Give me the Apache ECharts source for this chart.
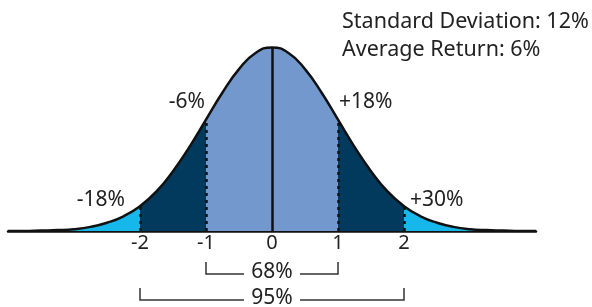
<!DOCTYPE html>
<html>
<head>
<meta charset="utf-8">
<script src="https://cdn.jsdelivr.net/npm/echarts@6/dist/echarts.min.js"></script>
<style>
  html, body { margin: 0; padding: 0; background: #fff; }
  #main { width: 592px; height: 307px; }
</style>
</head>
<body>
<div id="main"></div>
<script>
// 数据：标准差刻度和曲线高度
var sigmaX = [-4, -3.75, -3.5, -3.25, -3, -2.75, -2.5, -2.25, -2, -1.75, -1.5, -1.25, -1, -0.75, -0.5, -0.25,
    0, 0.25, 0.5, 0.75, 1, 1.25, 1.5, 1.75, 2, 2.25, 2.5, 2.75, 3, 3.25, 3.5, 3.75, 4];
var curveY = [0.000, 0.000, 0.001, 0.002, 0.004, 0.009, 0.018, 0.032, 0.054, 0.086, 0.130, 0.183, 0.242, 0.301, 0.352, 0.387,
    0.399, 0.387, 0.352, 0.301, 0.242, 0.183, 0.130, 0.086, 0.054, 0.032, 0.018, 0.009, 0.004, 0.002, 0.001, 0.000, 0.000];
var tickLabels = [-2, -1, 0, 1, 2];
var returnLabels = ['-18%', '-6%', '+18%', '+30%'];
var returnAt = [-2, -1, 1, 2];
var bandLabels = ['68%', '95%'];
var bandRange = [[-1, 1], [-2, 2]];
var infoLines = ['Standard Deviation: 12%', 'Average Return: 6%'];

(function () {
    var myChart = echarts.init(document.getElementById('main'));
    var font = 'Noto Sans';
    var points = sigmaX.map(function (x, i) { return [x, curveY[i]]; });

    function yAt(x) {
        return curveY[sigmaX.indexOf(x)];
    }

    // 竖线：0 为实线，±1 ±2 为虚线
    var lines = tickLabels.map(function (x) {
        return [
            { coord: [x, 0], lineStyle: { type: x === 0 ? 'solid' : [3, 4] } },
            { coord: [x, yAt(x)] }
        ];
    });

    var option = {
        animation: false,
        grid: { left: 8, right: 56, top: 47, bottom: 76 },
        xAxis: {
            type: 'value',
            min: -4,
            max: 4,
            interval: 1,
            splitLine: { show: false },
            axisTick: { show: false },
            axisLine: { lineStyle: { color: '#111', width: 2.5 } },
            axisLabel: {
                color: '#222',
                fontSize: 20,
                fontFamily: font,
                margin: 2,
                formatter: function (v) {
                    return tickLabels.indexOf(v) >= 0 ? String(v) : '';
                }
            }
        },
        yAxis: {
            type: 'value',
            min: 0,
            max: 0.4,
            show: false
        },
        visualMap: {
            show: false,
            type: 'piecewise',
            dimension: 0,
            seriesIndex: 0,
            pieces: [
                { lt: -2, color: '#16b8eb' },
                { gte: -2, lt: -1, color: '#023a5e' },
                { gte: -1, lte: 1, color: '#7398cd' },
                { gt: 1, lte: 2, color: '#023a5e' },
                { gt: 2, color: '#16b8eb' }
            ]
        },
        series: [
            {
                type: 'line',
                data: points,
                smooth: true,
                symbol: 'none',
                lineStyle: { width: 0 },
                areaStyle: { opacity: 1 },
                z: 1
            },
            {
                type: 'line',
                data: points,
                smooth: true,
                symbol: 'none',
                lineStyle: { color: '#111', width: 2.5 },
                z: 3,
                markLine: {
                    silent: true,
                    symbol: 'none',
                    label: { show: false },
                    lineStyle: { color: '#111', width: 2.5 },
                    data: lines
                }
            }
        ]
    };
    myChart.setOption(option);

    // 文字和括号
    var g = [];
    var textStyle = { fill: '#222', fontSize: 21, fontFamily: font };
    var labelOffset = [[-15, -6], [-1, -18], [1, -18], [6, -6]];
    returnLabels.forEach(function (t, i) {
        var x = returnAt[i];
        var p = myChart.convertToPixel({ gridIndex: 0 }, [x, yAt(x)]);
        var left = x < 0;
        g.push({
            type: 'text',
            x: p[0] + labelOffset[i][0],
            y: p[1] + labelOffset[i][1],
            style: Object.assign({ text: t, align: left ? 'right' : 'left', verticalAlign: 'middle' }, textStyle),
            z: 10
        });
    });
    var bandY = [274, 300];
    bandLabels.forEach(function (t, i) {
        var a = myChart.convertToPixel({ gridIndex: 0 }, [bandRange[i][0], 0])[0];
        var b = myChart.convertToPixel({ gridIndex: 0 }, [bandRange[i][1], 0])[0];
        var mid = (a + b) / 2;
        var y = bandY[i];
        var gap = 28;
        g.push({
            type: 'polyline',
            shape: { points: [[a, y - 12], [a, y], [mid - gap, y]] },
            style: { stroke: '#333', lineWidth: 1.5, fill: null }
        });
        g.push({
            type: 'polyline',
            shape: { points: [[mid + gap, y], [b, y], [b, y - 12]] },
            style: { stroke: '#333', lineWidth: 1.5, fill: null }
        });
        g.push({
            type: 'text',
            x: mid,
            y: y - 2,
            style: Object.assign({ text: t, align: 'center', verticalAlign: 'middle' }, textStyle)
        });
    });
    infoLines.forEach(function (t, i) {
        g.push({
            type: 'text',
            x: 342,
            y: 22 + i * 28,
            style: Object.assign({ text: t, align: 'left', verticalAlign: 'middle' }, textStyle, { fontSize: 21.5 })
        });
    });
    myChart.setOption({ graphic: g });
})();
</script>
</body>
</html>
